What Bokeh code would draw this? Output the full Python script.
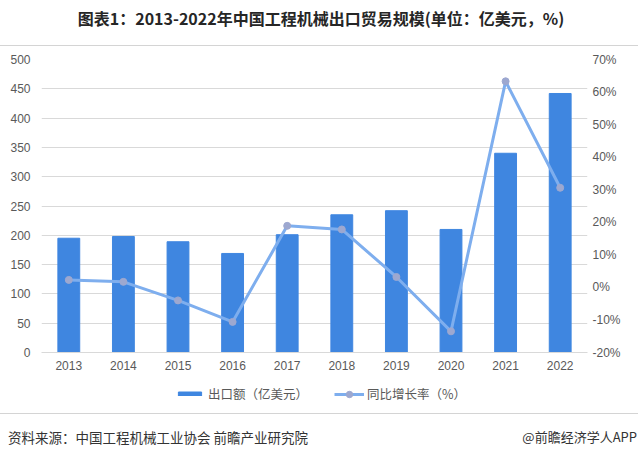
from bokeh.plotting import figure
from bokeh.layouts import column
from bokeh.models import (Range1d, FactorRange, LinearAxis, FixedTicker, PrintfTickFormatter,
                          Legend, LegendItem, ColumnDataSource, Div)
from bokeh.embed import file_html
from bokeh.resources import INLINE

years = ["2013", "2014", "2015", "2016", "2017", "2018", "2019", "2020", "2021", "2022"]
export_value = [195, 198, 189, 169, 201, 235, 242, 210, 340, 442]
growth_rate = [2.3, 1.7, -4.0, -10.6, 18.9, 17.8, 3.2, -13.5, 63.3, 30.6]
left_ticks = [0, 50, 100, 150, 200, 250, 300, 350, 400, 450, 500]
right_ticks = [-20, -10, 0, 10, 20, 30, 40, 50, 60, 70]

title_text = "图表1：2013-2022年中国工程机械出口贸易规模(单位：亿美元，%)"
source_text = "资料来源：中国工程机械工业协会 前瞻产业研究院"
brand_text = "@前瞻经济学人APP"
bar_name = "出口额（亿美元）"
line_name = "同比增长率（%）"

BAR = "#3F86E0"
LINE = "#7EAEEE"
MARK = "#9DA8D0"
TXT = "#595959"
GRID = "#D9D9D9"
RULE = "#D4D4D4"
CJK = "Noto Sans CJK SC"
NUM = "Liberation Sans"
W = 638

src = ColumnDataSource(dict(x=years, v=export_value, g=growth_rate))


def add_series(fig, visible=True):
    b = fig.vbar(x="x", top="v", width=0.4, source=src, color=BAR, visible=visible)
    l = fig.line(x="x", y="g", source=src, y_range_name="pct", line_color=LINE,
                 line_width=3, visible=visible)
    m = fig.scatter(x="x", y="g", source=src, y_range_name="pct", size=7,
                    fill_color=MARK, line_color=MARK, visible=visible)
    return b, l, m


# ---- title strip (page y 0..46)
top = Div(width=W, height=46, margin=(0, 0, 0, 0), text=(
    f'<div style="width:{W}px;height:46px;border-bottom:1px solid {RULE};'
    f'text-align:center;font-family:\'{CJK}\';font-weight:bold;font-size:16px;'
    f'line-height:36px;color:#262626;padding-left:4px;box-sizing:border-box;">{title_text}</div>'))

# ---- main chart (page y 46..376)
p = figure(width=W, height=330, output_backend="svg", toolbar_location=None,
           x_range=FactorRange(factors=years, range_padding=0),
           y_range=Range1d(0, 500),
           min_border_left=41, min_border_right=51, min_border_top=13, min_border_bottom=24)
p.outline_line_color = None
p.background_fill_color = "white"
p.border_fill_color = "white"
p.extra_y_ranges = {"pct": Range1d(-20, 70)}
add_series(p)

ya = p.yaxis[0]
ya.ticker = FixedTicker(ticks=left_ticks)
ra = LinearAxis(y_range_name="pct", ticker=FixedTicker(ticks=right_ticks),
                formatter=PrintfTickFormatter(format="%d%%"))
p.add_layout(ra, "right")
xa = p.xaxis[0]
for ax, so in ((ya, 11), (ra, 5), (xa, 8)):
    ax.axis_line_color = None
    ax.major_tick_line_color = None
    ax.minor_tick_line_color = None
    ax.major_tick_out = 0
    ax.major_tick_in = 0
    ax.minor_tick_out = 0
    ax.major_label_standoff = so
    ax.major_label_text_font = NUM
    ax.major_label_text_font_size = "12px"
    ax.major_label_text_color = TXT
xa.axis_line_color = GRID

p.xgrid.grid_line_color = None
p.ygrid.grid_line_color = GRID
p.ygrid.ticker = FixedTicker(ticks=left_ticks)

# ---- legend strip (page y 376..413); series renderers hidden, used only for the key
lg = figure(width=W, height=37, output_backend="svg", toolbar_location=None,
            x_range=FactorRange(factors=years, range_padding=0), y_range=Range1d(0, 500),
            x_axis_location=None, y_axis_location=None,
            min_border_left=41, min_border_right=51, min_border_top=0, min_border_bottom=0)
lg.extra_y_ranges = {"pct": Range1d(-20, 70)}
lg.outline_line_color = None
lg.xgrid.visible = False
lg.ygrid.visible = False
lg.background_fill_color = "white"
lg.border_fill_color = "white"
hb, hl, hm = add_series(lg, visible=False)

common = dict(padding=0, margin=0, border_line_color=None, background_fill_alpha=0,
              label_text_font=CJK, label_text_font_size="12.5px", label_text_color=TXT,
              click_policy="none")
leg1 = Legend(items=[LegendItem(label=bar_name, renderers=[hb])], location=(134, 10),
              glyph_width=29, glyph_height=5, label_standoff=4, **common)
leg2 = Legend(items=[LegendItem(label=line_name, renderers=[hl, hm])], location=(293, 10),
              glyph_width=30, glyph_height=16, label_standoff=3, **common)
lg.add_layout(leg1, "center")
lg.add_layout(leg2, "center")

# ---- footer strip (page y 413..456)
bot = Div(width=W, height=43, margin=(0, 0, 0, 0), text=(
    f'<div style="width:{W}px;height:43px;border-top:1px solid {RULE};box-sizing:border-box;'
    f'position:relative;font-family:\'{CJK}\';color:#333333;">'
    f'<span style="position:absolute;left:8px;top:13px;font-size:13.5px;line-height:20px;">{source_text}</span>'
    f'<span style="position:absolute;right:1px;top:13px;font-size:13px;line-height:20px;">{brand_text}</span>'
    f'</div>'))

layout = column(top, p, lg, bot, spacing=0)
open("out.html", "w").write(file_html(layout, INLINE))
